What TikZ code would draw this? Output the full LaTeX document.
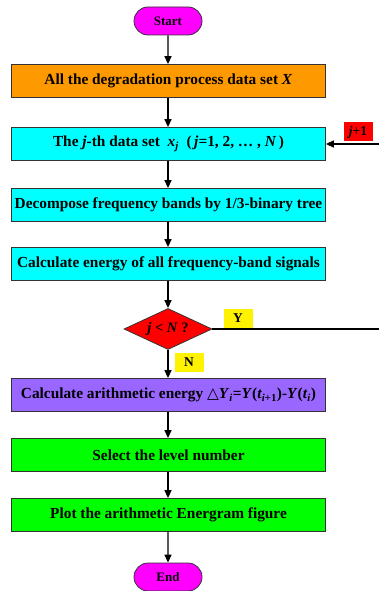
\documentclass[tikz,border=0pt]{standalone}
\usepackage{fontspec}
\setmainfont{Liberation Serif}
\newfontfamily\symfont{DejaVu Sans}
\usepackage{xcolor}
\usepackage{tikz}
\usetikzlibrary{shapes.geometric, shapes.misc, arrows.meta, positioning}
\definecolor{StepOrange}{RGB}{255,153,0}
\definecolor{StepCyan}{RGB}{0,255,255}
\definecolor{StepViolet}{RGB}{153,102,255}
\definecolor{StepGreen}{RGB}{0,255,0}
\definecolor{StepMagenta}{RGB}{255,0,255}
\tikzstyle{procbox} = [
  rectangle, draw=black!80, line width=0.8pt,
  text centered, minimum width=314bp, minimum height=33bp,
  inner sep=0pt, font=\fontsize{15.4}{17}\selectfont\bfseries
]
\tikzstyle{termbox} = [
  rounded rectangle, draw=black!80, line width=0.8pt, fill=StepMagenta,
  minimum width=68bp, minimum height=28bp, inner sep=0pt,
  font=\fontsize{13}{15}\selectfont\bfseries
]
\tikzstyle{tagbox} = [
  rectangle, inner sep=0pt, minimum width=29bp, minimum height=19bp,
  font=\fontsize{13.5}{15}\selectfont\bfseries
]
\tikzstyle{arrow} = [-{Triangle[length=8bp,width=7bp]}, line width=1.4pt]

\begin{document}
\begin{tikzpicture}[x=1bp, y=-1bp]
  \useasboundingbox (0, 0) rectangle (379, 591);

  \node[termbox] (start) at (168, 21) {Start};
  \node[procbox, fill=StepOrange] (alldata) at (168.5, 81)
    {All the degradation process data set \textit{X}};
  \node[procbox, fill=StepCyan] (jdata) at (168.5, 144)
    {The \textit{j}-th data set \ \textit{x}\textsubscript{\textit{j}} \ (\,\textit{j}=1, 2, \dots\ , \textit{N}\,)};
  \node[procbox, fill=StepCyan] (decomp) at (168.5, 205)
    {Decompose frequency bands by 1/3-binary tree};
  \node[procbox, fill=StepCyan] (energy) at (168.5, 264)
    {Calculate energy of all frequency-band signals};
  \node[diamond, draw=black!80, line width=0.8pt, fill=red, aspect=2.15,
        minimum width=88bp, minimum height=41bp, inner sep=0pt,
        font=\fontsize{14.5}{16}\selectfont\bfseries] (check) at (168, 329)
    {\textit{j} < \textit{N} ?};
  \node[procbox, fill=StepViolet] (arith) at (168.5, 395)
    {Calculate arithmetic energy {\symfont\itshape △}\textit{Y}\textsubscript{\textit{i}}=\textit{Y}(\textit{t}\textsubscript{\textit{i}+1})-\textit{Y}(\textit{t}\textsubscript{\textit{i}})};
  \node[procbox, fill=StepGreen] (level) at (168.5, 455)
    {Select the level number};
  \node[procbox, fill=StepGreen] (plot) at (168.5, 515)
    {Plot the arithmetic Energram figure};
  \node[termbox] (finish) at (168, 577) {End};

  \node[tagbox, fill=yellow] (yes) at (238, 318) {Y};
  \node[tagbox, fill=yellow] (no) at (189, 362) {N};
  \node[tagbox, fill=red] (jnext) at (358, 132) {\textit{j}+1};

  \coordinate (loopin) at (379, 144);
  \coordinate (loopout) at (379, 329);

  \draw[arrow] (start) -- (start |- alldata.north);
  \draw[arrow] (start |- alldata.south) -- (start |- jdata.north);
  \draw[arrow] (start |- jdata.south) -- (start |- decomp.north);
  \draw[arrow] (start |- decomp.south) -- (start |- energy.north);
  \draw[arrow] (start |- energy.south) -- (check);
  \draw[arrow] (check) -- (start |- arith.north);
  \draw[arrow] (start |- arith.south) -- (start |- level.north);
  \draw[arrow] (start |- level.south) -- (start |- plot.north);
  \draw[arrow] (start |- plot.south) -- (finish);

  \draw[line width=1.4pt] (check.east) -- (loopout);
  \draw[arrow] (loopin) -- (jdata.east);

\end{tikzpicture}
\end{document}
